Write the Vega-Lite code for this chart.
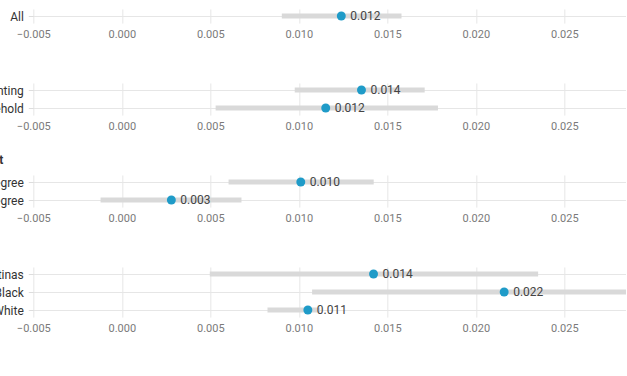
{
  "$schema": "https://vega.github.io/schema/vega-lite/v6.json",
  "padding": {"left": -166.7, "top": -12, "right": 0, "bottom": 0},
  "background": "white",
  "config": {
    "font": "Roboto",
    "view": {"stroke": null},
    "concat": {"spacing": 22}
  },
  "data": {
    "values": [
      {"group": "overall", "label": "All", "est": 0.0124, "lo": 0.00904, "hi": 0.0158},
      {"group": "family", "label": "Parenting", "est": 0.01354, "lo": 0.00977, "hi": 0.01711},
      {"group": "family", "label": "Household", "est": 0.01152, "lo": 0.0053, "hi": 0.01786},
      {"group": "edu", "label": "College degree", "est": 0.01011, "lo": 0.00603, "hi": 0.01423},
      {"group": "edu", "label": "No college degree", "est": 0.0028, "lo": -0.0012, "hi": 0.00676},
      {"group": "race", "label": "Latinas", "est": 0.01422, "lo": 0.00497, "hi": 0.02352},
      {"group": "race", "label": "Black", "est": 0.0216, "lo": 0.01075, "hi": 0.0325},
      {"group": "race", "label": "White", "est": 0.01051, "lo": 0.00823, "hi": 0.0112}
    ]
  },
  "vconcat": [
    {
      "title": {"text": "Overall", "anchor": "start", "frame": "group", "align": "right", "dx": -40, "offset": 8, "fontSize": 12, "fontWeight": "bold", "color": "#333"},
      "width": 593,
      "height": {"step": 18},
      "transform": [{"filter": "datum.group === 'overall'"}],
      "encoding": {
        "y": {"field": "label", "type": "nominal", "sort": null, "scale": {"type": "point", "padding": 0.39},
          "axis": {"title": null, "domain": false, "ticks": true, "tickSize": 5, "tickColor": "#dddddd", "grid": true, "gridColor": "#e6e6e6", "labelPadding": 5, "labelFontSize": 12, "labelColor": "#333333", "minExtent": 200, "maxExtent": 200}}
      },
      "layer": [
        {"mark": {"type": "rule", "strokeWidth": 5, "color": "#d9d9d9", "clip": true},
          "encoding": {
            "x": {"field": "lo", "type": "quantitative", "scale": {"domain": [-0.005, 0.0285], "nice": false, "zero": false},
              "axis": {"title": null, "values": [-0.005, 0, 0.005, 0.01, 0.015, 0.02, 0.025], "format": ".3f", "grid": true, "gridColor": "#e6e6e6", "ticks": false, "domain": false, "labelFlush": false, "labelPadding": 5, "labelFontSize": 11, "labelColor": "#7a7a7a"}},
            "x2": {"field": "hi"}
          }},
        {"mark": {"type": "circle", "size": 80, "color": "#1f9bc8", "opacity": 1},
          "encoding": {"x": {"field": "est", "type": "quantitative"}}},
        {"mark": {"type": "text", "align": "left", "dx": 9, "fontSize": 12, "color": "#444444"},
          "encoding": {"x": {"field": "est", "type": "quantitative"}, "text": {"field": "est", "type": "quantitative", "format": ".3f"}}}
      ]
    },
    {
      "title": {"text": "Family status", "anchor": "start", "frame": "group", "align": "right", "dx": -40, "offset": 8, "fontSize": 12, "fontWeight": "bold", "color": "#333"},
      "width": 593,
      "height": {"step": 18},
      "transform": [{"filter": "datum.group === 'family'"}],
      "encoding": {
        "y": {"field": "label", "type": "nominal", "sort": null, "scale": {"type": "point", "padding": 0.39},
          "axis": {"title": null, "domain": false, "ticks": true, "tickSize": 5, "tickColor": "#dddddd", "grid": true, "gridColor": "#e6e6e6", "labelPadding": 5, "labelFontSize": 12, "labelColor": "#333333", "minExtent": 200, "maxExtent": 200}}
      },
      "layer": [
        {"mark": {"type": "rule", "strokeWidth": 5, "color": "#d9d9d9", "clip": true},
          "encoding": {
            "x": {"field": "lo", "type": "quantitative", "scale": {"domain": [-0.005, 0.0285], "nice": false, "zero": false},
              "axis": {"title": null, "values": [-0.005, 0, 0.005, 0.01, 0.015, 0.02, 0.025], "format": ".3f", "grid": true, "gridColor": "#e6e6e6", "ticks": false, "domain": false, "labelFlush": false, "labelPadding": 5, "labelFontSize": 11, "labelColor": "#7a7a7a"}},
            "x2": {"field": "hi"}
          }},
        {"mark": {"type": "circle", "size": 80, "color": "#1f9bc8", "opacity": 1},
          "encoding": {"x": {"field": "est", "type": "quantitative"}}},
        {"mark": {"type": "text", "align": "left", "dx": 9, "fontSize": 12, "color": "#444444"},
          "encoding": {"x": {"field": "est", "type": "quantitative"}, "text": {"field": "est", "type": "quantitative", "format": ".3f"}}}
      ]
    },
    {
      "title": {"text": "Educational attainment", "anchor": "start", "frame": "group", "align": "right", "dx": -30, "offset": 8, "fontSize": 12, "fontWeight": "bold", "color": "#333"},
      "width": 593,
      "height": {"step": 18},
      "transform": [{"filter": "datum.group === 'edu'"}],
      "encoding": {
        "y": {"field": "label", "type": "nominal", "sort": null, "scale": {"type": "point", "padding": 0.39},
          "axis": {"title": null, "domain": false, "ticks": true, "tickSize": 5, "tickColor": "#dddddd", "grid": true, "gridColor": "#e6e6e6", "labelPadding": 5, "labelFontSize": 12, "labelColor": "#333333", "minExtent": 200, "maxExtent": 200}}
      },
      "layer": [
        {"mark": {"type": "rule", "strokeWidth": 5, "color": "#d9d9d9", "clip": true},
          "encoding": {
            "x": {"field": "lo", "type": "quantitative", "scale": {"domain": [-0.005, 0.0285], "nice": false, "zero": false},
              "axis": {"title": null, "values": [-0.005, 0, 0.005, 0.01, 0.015, 0.02, 0.025], "format": ".3f", "grid": true, "gridColor": "#e6e6e6", "ticks": false, "domain": false, "labelFlush": false, "labelPadding": 5, "labelFontSize": 11, "labelColor": "#7a7a7a"}},
            "x2": {"field": "hi"}
          }},
        {"mark": {"type": "circle", "size": 80, "color": "#1f9bc8", "opacity": 1},
          "encoding": {"x": {"field": "est", "type": "quantitative"}}},
        {"mark": {"type": "text", "align": "left", "dx": 9, "fontSize": 12, "color": "#444444"},
          "encoding": {"x": {"field": "est", "type": "quantitative"}, "text": {"field": "est", "type": "quantitative", "format": ".3f"}}}
      ]
    },
    {
      "title": {"text": "Race/ethnicity", "anchor": "start", "frame": "group", "align": "right", "dx": -40, "offset": 8, "fontSize": 12, "fontWeight": "bold", "color": "#333"},
      "width": 593,
      "height": {"step": 18},
      "transform": [{"filter": "datum.group === 'race'"}],
      "encoding": {
        "y": {"field": "label", "type": "nominal", "sort": null, "scale": {"type": "point", "padding": 0.39},
          "axis": {"title": null, "domain": false, "ticks": true, "tickSize": 5, "tickColor": "#dddddd", "grid": true, "gridColor": "#e6e6e6", "labelPadding": 5, "labelFontSize": 12, "labelColor": "#333333", "minExtent": 200, "maxExtent": 200}}
      },
      "layer": [
        {"mark": {"type": "rule", "strokeWidth": 5, "color": "#d9d9d9", "clip": true},
          "encoding": {
            "x": {"field": "lo", "type": "quantitative", "scale": {"domain": [-0.005, 0.0285], "nice": false, "zero": false},
              "axis": {"title": null, "values": [-0.005, 0, 0.005, 0.01, 0.015, 0.02, 0.025], "format": ".3f", "grid": true, "gridColor": "#e6e6e6", "ticks": false, "domain": false, "labelFlush": false, "labelPadding": 5, "labelFontSize": 11, "labelColor": "#7a7a7a"}},
            "x2": {"field": "hi"}
          }},
        {"mark": {"type": "circle", "size": 80, "color": "#1f9bc8", "opacity": 1},
          "encoding": {"x": {"field": "est", "type": "quantitative"}}},
        {"mark": {"type": "text", "align": "left", "dx": 9, "fontSize": 12, "color": "#444444"},
          "encoding": {"x": {"field": "est", "type": "quantitative"}, "text": {"field": "est", "type": "quantitative", "format": ".3f"}}}
      ]
    }
  ]
}
